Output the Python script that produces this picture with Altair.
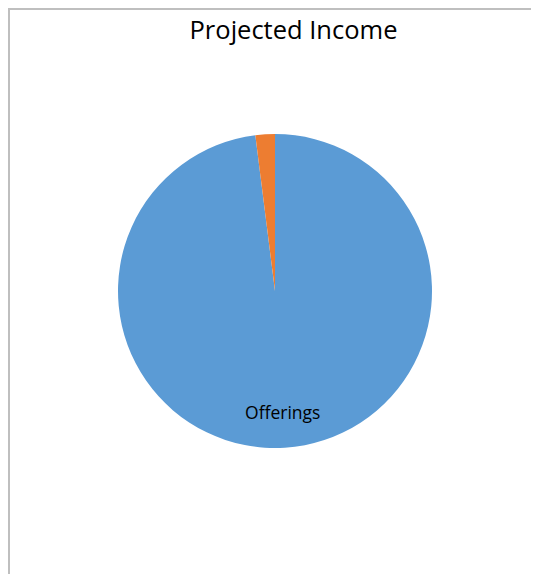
import altair as alt
import pandas as pd

categories = ["Offerings", "Other"]
values = [98, 2]
labels = ["Offerings", ""]
order = [0, 1]
colors = ["#5B9BD5", "#ED7D31"]

df = pd.DataFrame({"category": categories, "value": values, "label": labels, "order": order})

W, H = 523, 566
CX, CY = 267, 283

base = alt.Chart(df).encode(
    theta=alt.Theta("value:Q", stack=True),
    order=alt.Order("order:Q"),
)

pie = base.mark_arc(outerRadius=157).encode(
    x=alt.value(CX),
    y=alt.value(CY),
    color=alt.Color("category:N", scale=alt.Scale(domain=categories, range=colors), legend=None),
)

text = base.mark_text(radius=123, font="Open Sans", fontSize=17.5, color="#000000").encode(
    x=alt.value(CX),
    y=alt.value(CY),
    text="label:N",
)

one = pd.DataFrame({"a": [0]})
top_rule = alt.Chart(one).mark_rule(color="#BFBFBF", strokeWidth=2).encode(
    x=alt.value(0), x2=alt.value(W), y=alt.value(1)
)
left_rule = alt.Chart(one).mark_rule(color="#BFBFBF", strokeWidth=2).encode(
    x=alt.value(1), y=alt.value(0), y2=alt.value(H)
)

chart = alt.layer(top_rule, left_rule, pie, text).properties(
    width=W,
    height=H,
    autosize="none",
    padding=0,
    title=alt.Title(
        "Projected Income",
        font="Open Sans",
        fontSize=25.5,
        fontWeight="normal",
        color="#000000",
        anchor="middle",
        offset=-37,
        dx=24,
    ),
).configure_view(stroke=None)

chart.save("out.html", embed_options={"renderer": "svg", "actions": False})
